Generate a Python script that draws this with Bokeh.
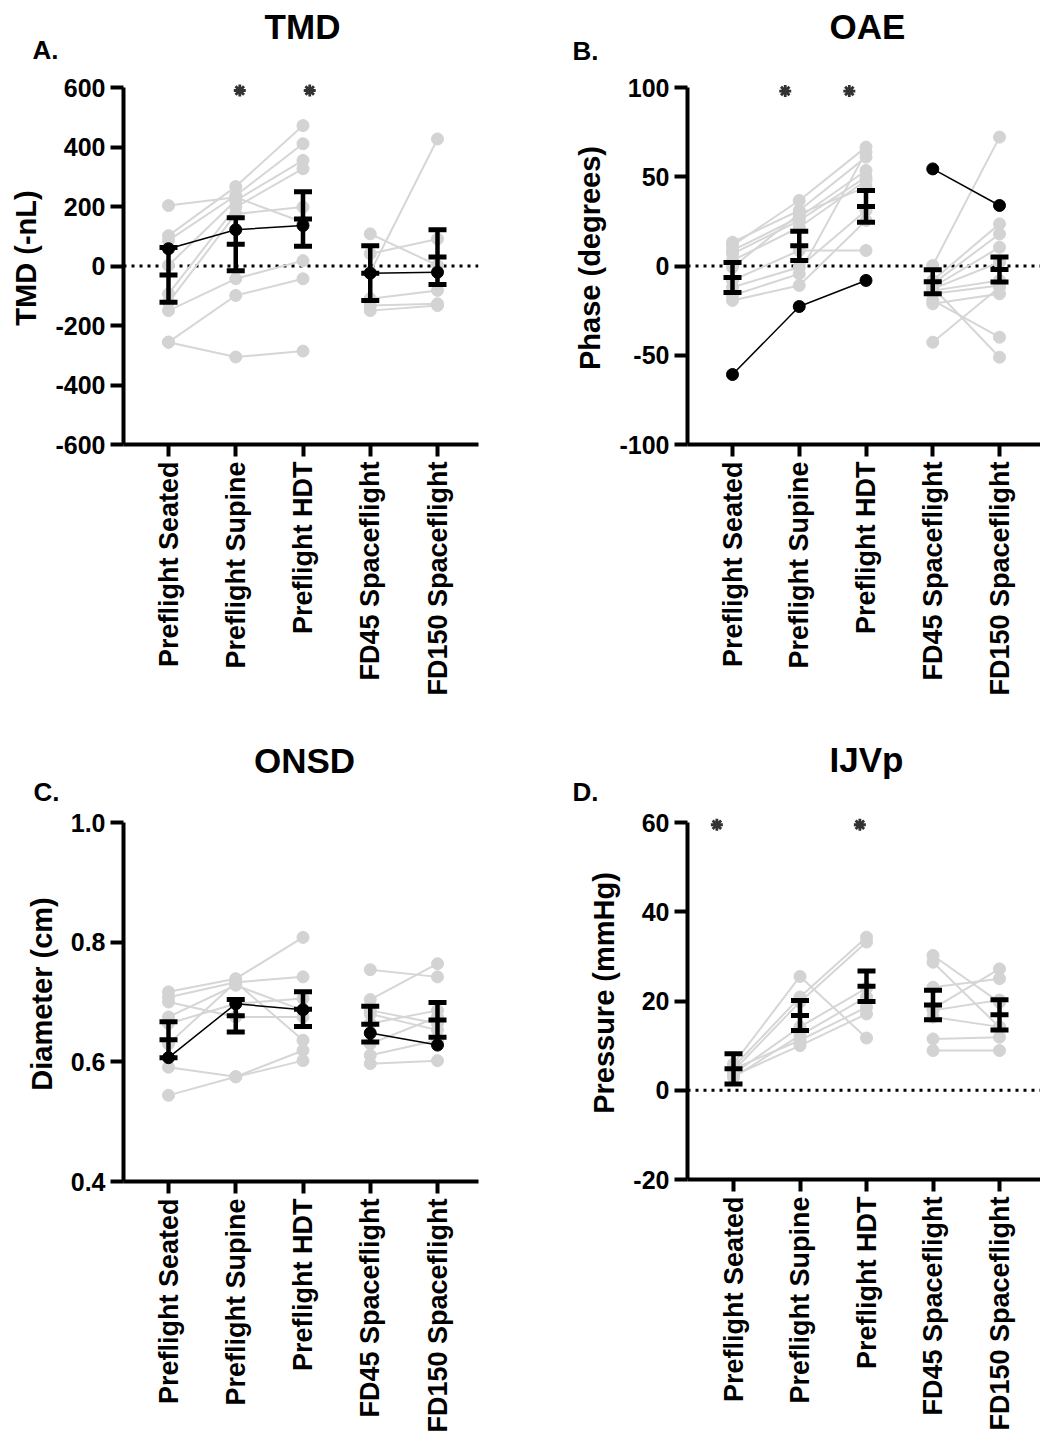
import numpy as np
from bokeh.plotting import figure
from bokeh.layouts import row, column
from bokeh.models import Range1d, FixedTicker, Span, Label
from bokeh.embed import file_html
from bokeh.resources import INLINE

categories = ["Preflight Seated", "Preflight Supine", "Preflight HDT",
              "FD45 Spaceflight", "FD150 Spaceflight"]

# ---------------- A. TMD ----------------
tmd_seated = [203, 102, 86, 2, -94, -122, -150, -256, -256]
tmd_supine = [231, 267, 237, 220, 198, 175, -43, -99, -306]
tmd_hdt = [147, 472, 411, 355, 327, 198, 18, -43, -286]
tmd_fd45 = [108, 41, -21, -110, -133, -150]
tmd_fd150 = [2, 91, 427, -82, -127, -133]
tmd_hl_pre = [58, 122, 136]
tmd_hl_fd = [-24, -21]
tmd_mean = [-30, 73, 158, -24, 30]
tmd_sem = [92, 89, 92, 92, 92]
tmd_star_x = [1.06, 2.10]
tmd_star_y = [590, 590]
tmd_ticks = [-600, -400, -200, 0, 200, 400, 600]
tmd_tick_labels = ["-600", "-400", "-200", "0", "200", "400", "600"]

# ---------------- B. OAE ----------------
oae_seated = [13.3, 11.5, 8.7, 6.8, 3.1, -0.7, -8.1, -11.9, -16.5, -19.3]
oae_supine = [31.1, 36.7, 27.3, 25.5, 21.7, 29.2, 8.7, -0.7, -4.4, -10.9]
oae_hdt = [61.0, 66.6, 53.5, 49.8, 47.9, 44.2, 8.7, 31.1, 63.8, 25.5]
oae_fd45 = [0.3, -8.1, -10.0, -11.9, -12.8, -13.8, -15.6, -21.2, -19.3, -11.9, -42.7]
oae_fd150 = [72.2, 23.6, 17.9, 10.5, 2.1, -8.1, -10.9, -15.6, -39.9, -51.1, -11.9]
oae_hl_pre = [-60.8, -22.7, -8.1]
oae_hl_fd = [54.4, 33.9]
oae_mean = [-6.4, 11.3, 33.4, -8.8, -2.0]
oae_sem = [8.4, 8.2, 8.9, 6.7, 7.0]
oae_star_x = [0.79, 1.75]
oae_star_y = [98, 98]
oae_ticks = [-100, -50, 0, 50, 100]
oae_tick_labels = ["-100", "-50", "0", "50", "100"]

# ---------------- C. ONSD ----------------
onsd_seated = [0.717, 0.708, 0.700, 0.675, 0.664, 0.630, 0.591, 0.544]
onsd_supine = [0.739, 0.733, 0.675, 0.728, 0.697, 0.733, 0.575, 0.575]
onsd_hdt = [0.808, 0.742, 0.675, 0.686, 0.706, 0.636, 0.619, 0.602]
onsd_fd45 = [0.754, 0.704, 0.686, 0.680, 0.664, 0.630, 0.611, 0.597]
onsd_fd150 = [0.742, 0.764, 0.664, 0.653, 0.686, 0.675, 0.636, 0.602]
onsd_hl_pre = [0.607, 0.697, 0.687]
onsd_hl_fd = [0.648, 0.628]
onsd_mean = [0.637, 0.677, 0.688, 0.663, 0.670]
onsd_sem = [0.030, 0.027, 0.029, 0.030, 0.029]
onsd_ticks = [0.4, 0.6, 0.8, 1.0]
onsd_tick_labels = ["0.4", "0.6", "0.8", "1.0"]

# ---------------- D. IJVp ----------------
ijv_seated = [5.9, 5.2, 4.4, 3.7, 2.9, 4.8, 3.3]
ijv_supine = [25.5, 20.9, 19.8, 14.2, 12.3, 11.2, 10.0]
ijv_hdt = [11.7, 34.3, 33.2, 22.9, 20.9, 18.6, 17.1]
ijv_fd45 = [30.2, 28.7, 23.1, 18.3, 17.9, 16.4, 11.5, 8.9]
ijv_fd150 = [19.7, 14.1, 25.0, 27.2, 20.2, 14.2, 11.9, 8.9]
ijv_mean = [4.8, 16.75, 23.3, 19.1, 16.9]
ijv_sem = [3.4, 3.35, 3.4, 3.3, 3.4]
ijv_star_x = [-0.25, 1.90]
ijv_star_y = [59.5, 59.5]
ijv_ticks = [-20, 0, 20, 40, 60]
ijv_tick_labels = ["-20", "0", "20", "40", "60"]

FONT = "Liberation Sans"
GRAY_LINE = "#d6d6d6"
GRAY_DOT = "#d3d3d3"
TOP_PAD = 16
TITLE_SIZE = 35
LETTER_SIZE = 26


def header(w, h, title, tx, ty, letter, lx, ly):
    f = figure(width=w, height=h, min_border=0, x_range=Range1d(0, w),
               y_range=Range1d(0, h), x_axis_location=None, y_axis_location=None,
               output_backend="svg", toolbar_location=None, tools="")
    f.outline_line_color = None
    f.grid.visible = False
    f.add_layout(Label(x=tx, y=h - ty + 0.42 * TITLE_SIZE, x_units="screen", y_units="screen",
                       text=title, text_align="center", text_baseline="alphabetic",
                       text_font=FONT, text_font_style="bold",
                       text_font_size=f"{TITLE_SIZE}px", text_color="black"))
    f.add_layout(Label(x=lx, y=h - ly + 0.42 * LETTER_SIZE, x_units="screen", y_units="screen",
                       text=letter, text_align="left", text_baseline="alphabetic",
                       text_font=FONT, text_font_style="bold",
                       text_font_size=f"{LETTER_SIZE}px", text_color="black"))
    return f


def make_panel(cfg, seated, supine, hdt, fd45, fd150, hl_pre, hl_fd,
               mean, sem, star_x, star_y, ticks, tick_labels, ylabel, zero=True):
    fl, fr = cfg["frame_left"], cfg["frame_right"]
    at, ab = cfg["axis_top"], cfg["axis_bottom"]
    ft = at - TOP_PAD
    fw = fr - fl
    fh = ab - ft
    ymin, ymax = ticks[0], ticks[-1]
    scale = (ab - at) / (ymax - ymin)
    y_end = ymax + TOP_PAD / scale
    x0, dx = cfg["x_first"], cfg["spacing"]
    x_start = (fl - x0) / dx
    x_end = (fr - x0) / dx

    p = figure(frame_width=fw, frame_height=fh,
               min_border_left=fl, min_border_right=cfg["fig_w"] - fr,
               min_border_top=0, min_border_bottom=cfg["fig_bottom"] - ab,
               x_range=Range1d(x_start, x_end), y_range=Range1d(ymin, y_end),
               output_backend="svg", toolbar_location=None, tools="")
    p.outline_line_color = None
    p.grid.visible = False
    p.background_fill_color = "white"
    p.border_fill_color = "white"

    for ax in (p.xaxis[0], p.yaxis[0]):
        ax.axis_line_width = 4
        ax.axis_line_color = "black"
        ax.major_tick_line_width = 4
        ax.major_tick_line_color = "black"
        ax.major_tick_in = 0
        ax.minor_tick_line_color = None
        ax.major_label_text_font = FONT
        ax.major_label_text_font_style = "bold"
        ax.major_label_text_color = "black"
    p.xaxis.ticker = FixedTicker(ticks=list(range(len(categories))))
    p.xaxis.major_label_overrides = {i: c for i, c in enumerate(categories)}
    p.xaxis.major_label_orientation = np.pi / 2
    p.xaxis.major_label_text_font_size = "27px"
    p.xaxis.major_tick_out = 12
    p.xaxis.major_label_standoff = 5
    p.yaxis.ticker = FixedTicker(ticks=ticks)
    p.yaxis.major_label_overrides = {t: s for t, s in zip(ticks, tick_labels)}
    p.yaxis.bounds = (ymin, ymax)
    p.yaxis.major_tick_out = 13
    p.yaxis.major_label_text_font_size = "25px"
    p.yaxis.major_label_standoff = 5
    p.yaxis.axis_label = ylabel
    p.yaxis.axis_label_text_font = FONT
    p.yaxis.axis_label_text_font_style = "bold"
    p.yaxis.axis_label_text_font_size = "29px"
    p.yaxis.axis_label_text_color = "black"
    p.yaxis.axis_label_standoff = 10

    if zero:
        sp = Span(location=0, dimension="width", line_color="black",
                  line_width=3, line_dash="3 5", level="underlay")
        p.add_layout(sp)

    pre_xs = [[0, 1, 2] for _ in seated]
    pre_ys = [[a, b, c] for a, b, c in zip(seated, supine, hdt)]
    fd_xs = [[3, 4] for _ in fd45]
    fd_ys = [[a, b] for a, b in zip(fd45, fd150)]
    p.multi_line(pre_xs + fd_xs, pre_ys + fd_ys, line_color=GRAY_LINE, line_width=2)
    px = [x for xs in pre_xs + fd_xs for x in xs]
    py = [y for ys in pre_ys + fd_ys for y in ys]
    p.scatter(px, py, size=12, fill_color=GRAY_DOT, line_color=GRAY_DOT)

    if hl_pre is not None:
        p.line([0, 1, 2], hl_pre, line_color="black", line_width=1.5)
        p.scatter([0, 1, 2], hl_pre, size=12, color="black")
    if hl_fd is not None:
        p.line([3, 4], hl_fd, line_color="black", line_width=1.5)
        p.scatter([3, 4], hl_fd, size=12, color="black")

    xi = list(range(len(mean)))
    lo = [m - s for m, s in zip(mean, sem)]
    hi = [m + s for m, s in zip(mean, sem)]
    p.segment(xi, lo, xi, hi, line_color="black", line_width=4.5)
    p.scatter(xi + xi + xi, lo + hi + mean, marker="dash", size=18,
              line_color="black", line_width=5)

    if star_x:
        p.scatter(star_x, star_y, marker="asterisk", size=12,
                  line_color="#333333", line_width=2.8)
    return p


cfgA = dict(fig_w=560, fig_bottom=649, frame_left=123, frame_right=478,
            axis_top=16, axis_bottom=373, x_first=168, spacing=67.25)
cfgB = dict(fig_w=480, fig_bottom=649, frame_left=127, frame_right=480,
            axis_top=16, axis_bottom=373, x_first=172, spacing=66.75)
cfgC = dict(fig_w=560, fig_bottom=629, frame_left=123, frame_right=478,
            axis_top=16, axis_bottom=375, x_first=168, spacing=67.25)
cfgD = dict(fig_w=480, fig_bottom=629, frame_left=127, frame_right=480,
            axis_top=16, axis_bottom=373, x_first=173, spacing=66.5)

hA = header(560, 71, "TMD", 302, 41, "A.", 32, 60)
hB = header(480, 71, "OAE", 307, 41, "B.", 12, 61)
hC = header(560, 86, "ONSD", 304, 55, "C.", 33, 82)
hD = header(480, 86, "IJVp", 306, 54, "D.", 12, 82)

pA = make_panel(cfgA, tmd_seated, tmd_supine, tmd_hdt, tmd_fd45, tmd_fd150,
                tmd_hl_pre, tmd_hl_fd, tmd_mean, tmd_sem, tmd_star_x, tmd_star_y,
                tmd_ticks, tmd_tick_labels, "TMD (-nL)")
pB = make_panel(cfgB, oae_seated, oae_supine, oae_hdt, oae_fd45, oae_fd150,
                oae_hl_pre, oae_hl_fd, oae_mean, oae_sem, oae_star_x, oae_star_y,
                oae_ticks, oae_tick_labels, "Phase (degrees)")
pC = make_panel(cfgC, onsd_seated, onsd_supine, onsd_hdt, onsd_fd45, onsd_fd150,
                onsd_hl_pre, onsd_hl_fd, onsd_mean, onsd_sem, [], [],
                onsd_ticks, onsd_tick_labels, "Diameter (cm)", zero=False)
pD = make_panel(cfgD, ijv_seated, ijv_supine, ijv_hdt, ijv_fd45, ijv_fd150,
                None, None, ijv_mean, ijv_sem, ijv_star_x, ijv_star_y,
                ijv_ticks, ijv_tick_labels, "Pressure (mmHg)")

layout = column(row(hA, hB), row(pA, pB), row(hC, hD), row(pC, pD))
open("out.html", "w").write(file_html(layout, INLINE))
